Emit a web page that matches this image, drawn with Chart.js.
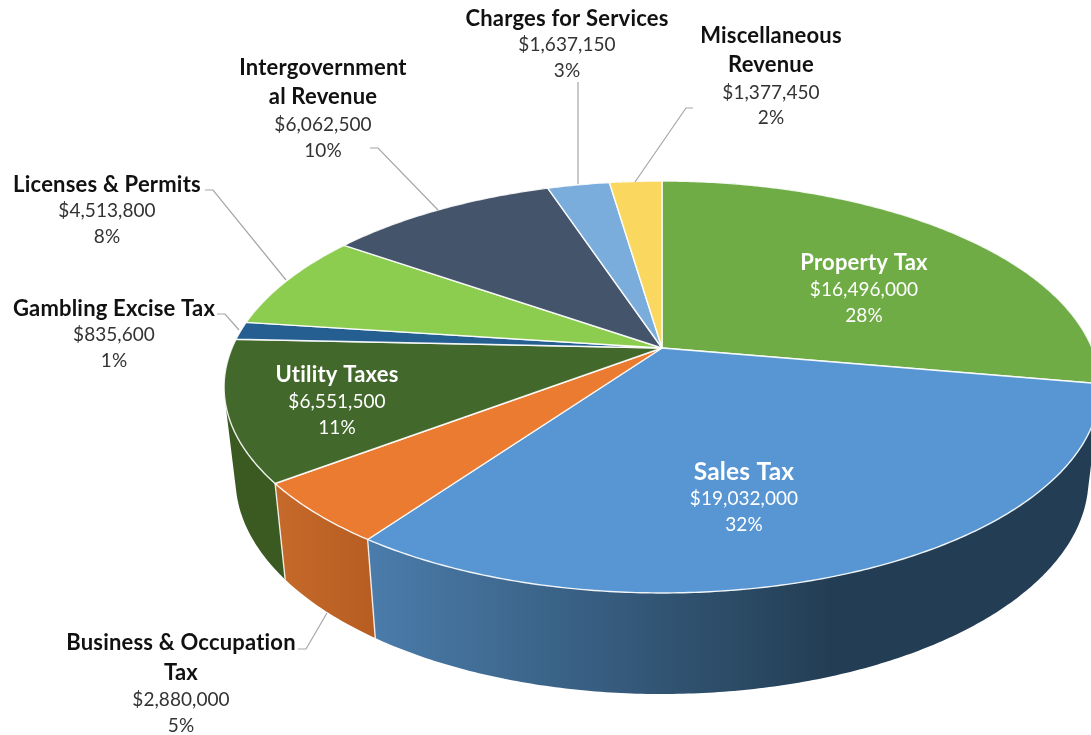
<!DOCTYPE html>
<html>
<head>
<meta charset="utf-8">
<style>html,body{margin:0;padding:0;background:#fff;overflow:hidden}canvas{display:block}</style>
<script src="https://cdn.jsdelivr.net/npm/chart.js@4/dist/chart.umd.js"></script>
</head>
<body>
<canvas id="c" width="1091" height="735"></canvas>
<script>
const categories = ['Property Tax','Sales Tax','Business & Occupation Tax','Utility Taxes','Gambling Excise Tax','Licenses & Permits','Intergovernmental Revenue','Charges for Services','Miscellaneous Revenue'];
const amounts = [16496000,19032000,2880000,6551500,835600,4513800,6062500,1637150,1377450];
const topColors = ['#6fac46','#5796d3','#ea7b30','#43682b','#255e91','#8ccc4e','#44546a','#7aaddc','#fad75f'];
const sideFrom = ['#4e7d33','#4b7cab','#c56a2a','#3a5a22','#1c4870','#6a9c3b','#333f50','#5c82a6','#bda247'];
const sideTo   = ['#4e7d33','#233e54','#b75d22','#3a5a22','#1c4870','#6a9c3b','#333f50','#5c82a6','#bda247'];
const nameLines = [['Property Tax'],['Sales Tax'],['Business & Occupation','Tax'],['Utility Taxes'],['Gambling Excise Tax'],['Licenses & Permits'],['Intergovernment','al Revenue'],['Charges for Services'],['Miscellaneous','Revenue']];

// label layout: centre x and the y of each text line
const labelBoxes = [
  {x:864, ys:[263,290,316], color:'#fff', size:22},
  {x:744, ys:[472,499,525], color:'#fff', size:24.5},
  {x:181, ys:[643,673,700,726], color:'#111', size:22},
  {x:337, ys:[375,402,428], color:'#fff', size:22},
  {x:114, ys:[309,335,361], color:'#111', size:22},
  {x:107, ys:[185,211,237], color:'#111', size:22},
  {x:323, ys:[68,97,125,151], color:'#111', size:22},
  {x:567, ys:[19,45,71], color:'#111', size:22},
  {x:771, ys:[36,65,93,118], color:'#111', size:22}
];
const leaders = [
  [[298,649],[306,649],[327,613]],
  [[217,314],[225,314],[239,330]],
  [[205,190],[213,190],[286,280]],
  [[370,148],[378,148],[438,210]],
  [[578,82],[578,184]],
  [[693,108],[686,108],[635,182]]
];

// projection of the tilted pie
const CX=662, R=430, A=132.7, B=348, C=-0.1893;
const DEPTH_SX=0.974, DEPTH_SY=1.046, DEPTH_OY=73.8;
function topPoint(angle){
  const u=Math.cos(angle), v=Math.sin(angle), w=1+C*v;
  return [CX+R*u/w,(A*v+B)/w];
}
function basePoint(angle){
  const p=topPoint(angle);
  return [CX+(p[0]-CX)*DEPTH_SX,p[1]*DEPTH_SY+DEPTH_OY];
}
function ring(s,e,fn){
  const n=Math.max(4,Math.ceil((e-s)/0.01)),pts=[];
  for(let i=0;i<=n;i++)pts.push(fn(s+(e-s)*i/n));
  return pts;
}
function signedArea(q){
  let a=0;
  q.forEach((p,i)=>{const n=q[(i+1)%q.length];a+=p[0]*n[1]-n[0]*p[1];});
  return a;
}

Chart.ArcElement.prototype.draw=function(ctx){
  const o=this.options;
  const pts=ring(this.startAngle,this.endAngle,topPoint);
  ctx.save();
  ctx.beginPath();
  ctx.moveTo(CX,B);
  pts.forEach(p=>ctx.lineTo(p[0],p[1]));
  ctx.closePath();
  ctx.fillStyle=o.backgroundColor;
  ctx.fill();
  ctx.lineJoin='round';
  ctx.lineWidth=1.4;
  ctx.strokeStyle='rgba(255,255,255,0.9)';
  ctx.stroke();
  ctx.restore();
};

const sidesPlugin={
  id:'sides',
  beforeDatasetsDraw(chart){
    const ctx=chart.ctx;
    chart.getDatasetMeta(0).data.forEach((arc,i)=>{
      const t=ring(arc.startAngle,arc.endAngle,topPoint);
      const b=ring(arc.startAngle,arc.endAngle,basePoint);
      const xs=t.concat(b).map(p=>p[0]);
      let x0=Math.min(...xs), x1=Math.max(...xs);
      if(i===1){x1=830;}
      const g=ctx.createLinearGradient(x0,0,x1,0);
      g.addColorStop(0,sideFrom[i]);
      g.addColorStop(1,sideTo[i]);
      ctx.fillStyle=g;
      ctx.beginPath();
      for(let k=0;k<t.length-1;k++){
        let q=[t[k],t[k+1],b[k+1],b[k]];
        if(signedArea(q)<0)q=q.reverse();
        q.forEach((p,m)=>m?ctx.lineTo(p[0],p[1]):ctx.moveTo(p[0],p[1]));
        ctx.closePath();
      }
      ctx.fill('nonzero');
    });
    // seams between front side faces
    ctx.strokeStyle='rgba(255,255,255,0.85)';
    ctx.lineWidth=1.4;
    chart.getDatasetMeta(0).data.slice(1,3).forEach(arc=>{
      const a=topPoint(arc.endAngle), c=basePoint(arc.endAngle);
      ctx.beginPath();ctx.moveTo(a[0],a[1]);ctx.lineTo(c[0],c[1]);ctx.stroke();
    });
  }
};

const labelsPlugin={
  id:'pieLabels',
  afterDatasetsDraw(chart){
    const ctx=chart.ctx;
    ctx.save();
    ctx.strokeStyle='#a6a6a6';
    ctx.lineWidth=1.2;
    leaders.forEach(l=>{
      ctx.beginPath();
      l.forEach((p,k)=>k?ctx.lineTo(p[0],p[1]):ctx.moveTo(p[0],p[1]));
      ctx.stroke();
    });
    const total=amounts.reduce((a,b)=>a+b,0);
    ctx.textAlign='center';
    ctx.textBaseline='middle';
    labelBoxes.forEach((box,i)=>{
      const lines=nameLines[i];
      const rows=lines.concat(['$'+amounts[i].toLocaleString('en-US'),Math.round(amounts[i]/total*100)+'%']);
      rows.forEach((txt,k)=>{
        const bold=k<lines.length;
        ctx.font=(bold?'bold ':'')+(bold?box.size:19)+'px Lato, "Open Sans", sans-serif';
        ctx.letterSpacing=bold?'0.2px':'0.05px';
        ctx.fillStyle=box.color==='#111'?(bold?'#111':'#333'):'#fff';
        ctx.fillText(txt,box.x,box.ys[k]);
      });
    });
    ctx.restore();
  }
};

new Chart(document.getElementById('c'),{
  type:'pie',
  data:{labels:categories,datasets:[{data:amounts,backgroundColor:topColors,borderWidth:0}]},
  options:{responsive:false,animation:false,plugins:{legend:{display:false},tooltip:{enabled:false}}},
  plugins:[sidesPlugin,labelsPlugin]
});
</script>
</body>
</html>
